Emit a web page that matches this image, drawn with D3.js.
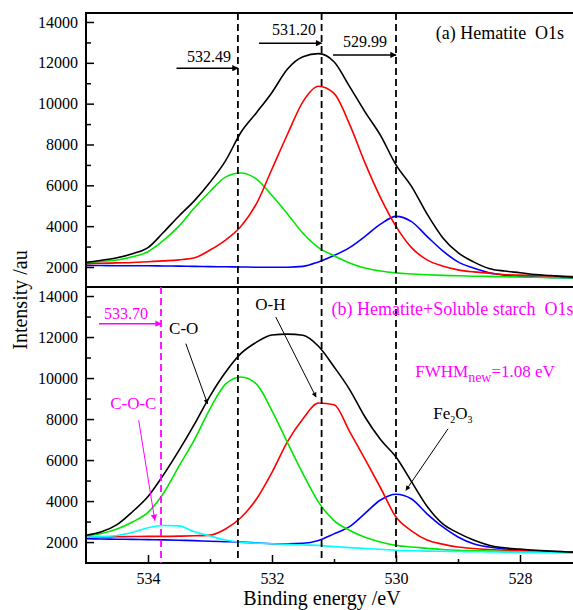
<!DOCTYPE html>
<html>
<head>
<meta charset="utf-8">
<script src="https://cdn.jsdelivr.net/npm/d3@7"></script>
<style>
body { margin: 0; background: #fff; }
</style>
</head>
<body>
<div class="canvas"></div>
<script>
// binding energy grid (eV), shared by every curve
var energy = [535, 534.75, 534.5, 534.25, 534, 533.75, 533.5, 533.25, 533, 532.75, 532.5, 532.25, 532,
  531.75, 531.5, 531.25, 531, 530.75, 530.5, 530.25, 530, 529.75, 529.5, 529.25, 529,
  528.75, 528.5, 528.25, 528, 527.75, 527.5, 527.25, 527];

// (a) Hematite O1s
var topBlack = [2230, 2330, 2450, 2650, 2950, 3700, 4500, 5250, 6150, 7200, 8600, 9560, 10550,
  11700, 12300, 12450, 12050, 10850, 9600, 8450, 7000, 5950, 4600, 3450, 2700,
  2250, 1930, 1800, 1720, 1630, 1580, 1520, 1480];
var topRed = [2160, 2180, 2200, 2220, 2260, 2300, 2350, 2450, 2830, 3320, 4000, 5100, 6800,
  8500, 10100, 10850, 10500, 9000, 7100, 5400, 3990, 2950, 2350, 2050, 1860,
  1760, 1700, 1620, 1600, 1580, 1560, 1540, 1530];
var topGreen = [2200, 2270, 2340, 2500, 2750, 3300, 4000, 4900, 5700, 6400, 6600, 6300, 5500,
  4600, 3650, 2950, 2550, 2200, 1950, 1800, 1710, 1660, 1620, 1590, 1570,
  1550, 1540, 1520, 1510, 1500, 1480, 1470, 1460];
var topBlue = [2080, 2070, 2060, 2060, 2060, 2050, 2040, 2030, 2020, 2010, 2000, 1990, 1990,
  1990, 2030, 2250, 2560, 2950, 3500, 4100, 4480, 4220, 3500, 2800, 2250,
  1950, 1720, 1600, 1540, 1510, 1490, 1470, 1460];

// (b) Hematite + soluble starch O1s
var botBlack = [2330, 2500, 2850, 3480, 4220, 5280, 6470, 7750, 9120, 10280, 11200, 11750, 12100,
  12140, 12090, 11550, 10550, 9450, 8100, 7000, 6150, 4950, 3750, 2900, 2450,
  2100, 1850, 1720, 1660, 1600, 1560, 1520, 1500];
var botRed = [2240, 2250, 2260, 2270, 2280, 2280, 2290, 2310, 2340, 2640, 3200, 4100, 5400,
  6900, 8020, 8780, 8700, 7400, 6050, 4650, 3220, 2550, 2100, 1900, 1760,
  1690, 1640, 1600, 1570, 1550, 1530, 1510, 1500];
var botGreen = [2300, 2420, 2640, 2980, 3450, 4380, 5700, 7000, 8500, 9700, 10050, 9700, 8400,
  6850, 5330, 3950, 3050, 2580, 2230, 2000, 1840, 1760, 1700, 1640, 1600,
  1580, 1560, 1540, 1520, 1510, 1500, 1490, 1480];
var botBlue = [2160, 2150, 2140, 2130, 2120, 2110, 2090, 2070, 2040, 2020, 2000, 1960, 1920,
  1920, 1940, 2080, 2400, 2750, 3400, 4050, 4330, 4100, 3380, 2750, 2250,
  1920, 1760, 1660, 1610, 1570, 1540, 1510, 1500];
var botCyan = [2240, 2270, 2320, 2480, 2700, 2810, 2790, 2500, 2300, 2100, 1990, 1950, 1920,
  1890, 1860, 1840, 1780, 1730, 1690, 1650, 1600, 1580, 1560, 1550, 1540,
  1530, 1520, 1510, 1500, 1490, 1490, 1480, 1480];

var yTicks = [2000, 4000, 6000, 8000, 10000, 12000, 14000];
var yMinor = [3000, 5000, 7000, 9000, 11000, 13000];
var xTicks = [528, 530, 532, 534];
var xMinor = [529, 531, 533];

// peak marker lines (as drawn) and their labels
var topPeakLines = [532.55, 531.20, 530.00];
var topPeakLabels = ["532.49", "531.20", "529.99"];
var botPeakLines = [532.55, 531.20, 530.00];
var cocLine = 533.79;
var cocLabel = "533.70";

var FONT = "'Liberation Serif', 'Times New Roman', Times, serif";

var W = 573, H = 610;
var svg = d3.select(".canvas").append("svg").attr("width", W).attr("height", H)
  .style("font-family", FONT);

var defs = svg.append("defs");
function marker(id, color, size) {
  defs.append("marker").attr("id", id)
    .attr("viewBox", "0 0 10 10").attr("refX", 9).attr("refY", 5)
    .attr("markerUnits", "userSpaceOnUse")
    .attr("markerWidth", size).attr("markerHeight", size * 0.7)
    .attr("orient", "auto")
    .append("path").attr("d", "M0,0L10,5L0,10Z").attr("fill", color);
}
marker("arrK", "#000", 9);
marker("arrM", "#ff00ff", 9);
marker("arrT", "#000", 7);

var x = d3.scaleLinear().domain([535, 527]).range([86, 582]);

var panels = [
  { id: "a", y: d3.scaleLinear().domain([1020, 14440]).range([287, 13]),
    series: [[topBlue, "#0000ff"], [topGreen, "#00e600"], [topRed, "#ff0000"], [topBlack, "#000000"]] },
  { id: "b", y: d3.scaleLinear().domain([980, 14440]).range([563, 287]),
    series: [[botBlue, "#0000ff"], [botRed, "#ff0000"], [botGreen, "#00e600"], [botCyan, "#00ffff"], [botBlack, "#000000"]] }
];

panels.forEach(function(p) {
  var y = p.y;
  var top = y.range()[1], bot = y.range()[0];

  defs.append("clipPath").attr("id", "clip" + p.id)
    .append("rect").attr("x", 86).attr("y", top).attr("width", 496).attr("height", bot - top);

  var g = svg.append("g").attr("clip-path", "url(#clip" + p.id + ")");

  var line = d3.line()
    .x(function(d, i) { return x(energy[i]); })
    .y(function(d) { return y(d); })
    .curve(d3.curveMonotoneX);

  p.series.forEach(function(s) {
    g.append("path").datum(s[0])
      .attr("d", line)
      .attr("fill", "none")
      .attr("stroke", s[1])
      .attr("stroke-width", 1.6);
  });

  // y axis, ticks pointing inward
  var ya = svg.append("g").attr("transform", "translate(86,0)")
    .call(d3.axisLeft(y).tickValues(yTicks).tickSizeInner(-8).tickSizeOuter(0).tickPadding(8).tickFormat(d3.format("d")));
  ya.attr("font-family", null);
  ya.select(".domain").remove();
  ya.selectAll("line").attr("stroke-width", 1.5);
  ya.selectAll("text").style("font-size", "16px").style("font-family", FONT).attr("fill", "#000");

  var ym = svg.append("g").attr("transform", "translate(86,0)")
    .call(d3.axisLeft(y).tickValues(yMinor).tickSizeInner(-5).tickSizeOuter(0).tickFormat(""));
  ym.select(".domain").remove();
  ym.selectAll("line").attr("stroke-width", 1.5);

  svg.append("rect").attr("x", 86).attr("y", top).attr("width", 496).attr("height", bot - top)
    .attr("fill", "none").attr("stroke", "#000").attr("stroke-width", 2);
});

// x axis on the lower panel
var xa = svg.append("g").attr("transform", "translate(0,563)")
  .call(d3.axisBottom(x).tickValues(xTicks).tickSizeInner(-8).tickSizeOuter(0).tickPadding(10).tickFormat(d3.format("d")));
xa.attr("font-family", null);
xa.select(".domain").remove();
xa.selectAll("line").attr("stroke-width", 1.5);
xa.selectAll("text").style("font-size", "16px").style("font-family", FONT).attr("fill", "#000");
var xm = svg.append("g").attr("transform", "translate(0,563)")
  .call(d3.axisBottom(x).tickValues(xMinor).tickSizeInner(-4).tickSizeOuter(0).tickFormat(""));
xm.select(".domain").remove();
xm.selectAll("line").attr("stroke-width", 1.5);

var yA = panels[0].y, yB = panels[1].y;

// dashed peak lines
function vdash(e, y, color) {
  svg.append("line")
    .attr("x1", x(e)).attr("x2", x(e))
    .attr("y1", y.range()[1]).attr("y2", y.range()[0])
    .attr("stroke", color).attr("stroke-width", 1.8)
    .attr("stroke-dasharray", "7,4");
}
topPeakLines.forEach(function(e) { vdash(e, yA, "#000"); });
botPeakLines.forEach(function(e) { vdash(e, yB, "#000"); });
vdash(cocLine, yB, "#ff00ff");

function label(txt, e, v, y, size, color) {
  return svg.append("text").attr("x", x(e)).attr("y", y(v))
    .style("font-family", FONT)
    .style("font-size", size + "px").attr("fill", color)
    .style("white-space", "pre").text(txt);
}
function arrow(e1, v1, e2, v2, y, color, w, mk) {
  svg.append("line")
    .attr("x1", x(e1)).attr("y1", y(v1)).attr("x2", x(e2)).attr("y2", y(v2))
    .attr("stroke", color).attr("stroke-width", w)
    .attr("marker-end", "url(#" + mk + ")");
}

// (a) peak-value labels with arrows to the lines
var topLabelPos = [[533.37, 12045, 533.54, 11736], [532.00, 13370, 532.21, 12961], [530.855, 12795, 531.016, 12388]];
topLabelPos.forEach(function(q, i) {
  label(topPeakLabels[i], q[0], q[1], yA, 16, "#000");
  arrow(q[2], q[3], topPeakLines[i], q[3], yA, "#000", 1.5, "arrK");
});
label("(a) Hematite  O1s", 529.36, 13157, yA, 18, "#000");

// (b) annotations
label("(b) Hematite+Soluble starch  O1s", 531.04, 13078, yB, 18, "#ff00ff");
label(cocLabel, 534.71, 12897, yB, 16, "#ff00ff");
arrow(534.79, 12653, cocLine, 12653, yB, "#ff00ff", 1.5, "arrM");

label("C-O", 533.66, 12165, yB, 17, "#000");
arrow(533.39, 11677, 533.04, 8749, yB, "#000", 1, "arrT");
label("O-H", 532.27, 13322, yB, 17, "#000");
arrow(531.94, 12980, 531.29, 9076, yB, "#000", 1, "arrT");
label("C-O-C", 534.61, 8505, yB, 17, "#ff00ff");
arrow(534.15, 7939, 533.89, 3059, yB, "#ff00ff", 1, "arrM");

var fw = label("FWHM", 529.69, 10052, yB, 17, "#ff00ff");
fw.append("tspan").attr("dy", 5).style("font-size", "14px").text("new");
fw.append("tspan").attr("dy", -5).text("=1.08 eV");

var fe = label("Fe", 529.40, 8017, yB, 17, "#000");
fe.append("tspan").attr("dy", 4).style("font-size", "10px").text("2");
fe.append("tspan").attr("dy", -4).text("O");
fe.append("tspan").attr("dy", 4).style("font-size", "10px").text("3");
arrow(529.16, 7529, 529.84, 4523, yB, "#000", 1, "arrT");

// axis titles
svg.append("text").attr("x", 322).attr("y", 605).attr("text-anchor", "middle")
  .style("font-family", FONT).style("font-size", "20px").text("Binding energy /eV");
svg.append("text").attr("transform", "translate(27,300) rotate(-90)").attr("text-anchor", "middle")
  .style("font-family", FONT).style("font-size", "20px").text("Intensity /au");
</script>
</body>
</html>
